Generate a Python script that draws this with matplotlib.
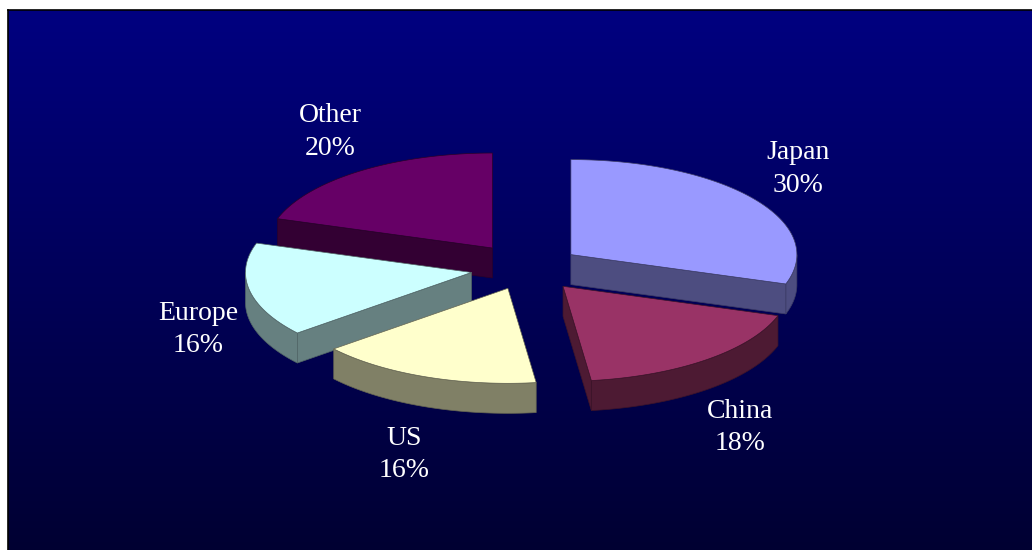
import numpy as np
import matplotlib
matplotlib.use("Agg")
import matplotlib.pyplot as plt
from matplotlib.patches import Polygon

categories = ["Japan", "China", "US", "Europe", "Other"]
shares = [30, 18, 16, 16, 20]
top_colors = ["#9999FF", "#993366", "#FFFFCC", "#CCFFFF", "#660066"]
explode = [0.24, 0.25, 0.23, 0.25, 0.26]

W, H = 1032, 550
fig = plt.figure(figsize=(W / 100, H / 100), dpi=100)
fig.patch.set_facecolor("white")
ax = fig.add_axes([0, 0, 1, 1])
ax.set_xlim(0, W)
ax.set_ylim(H, 0)
ax.axis("off")

# gradient background
grad = np.linspace(0, 1, 256)[:, None, None]
c_top = np.array([0, 0, 128]) / 255
c_bot = np.array([0, 0, 50]) / 255
img = c_top + (c_bot - c_top) * grad
ax.imshow(img, extent=(8, W, H, 10), aspect="auto", zorder=0,
          interpolation="bilinear")
ax.plot([8, 8], [10, H], color="black", lw=1.2, zorder=1)
ax.plot([8, W], [10, 10], color="black", lw=1.2, zorder=1)

# 3D pie geometry
cx, cy = 527, 268
rx, ry = 226, 95
T = 30

fr = np.array(shares, dtype=float) / sum(shares)
ends = 90 - np.cumsum(fr) * 360
starts = ends + fr * 360


def darker(hexc, f=0.5):
    r, g, b = matplotlib.colors.to_rgb(hexc)
    return (r * f, g * f, b * f)


slices = []
for i in range(len(shares)):
    a, b = ends[i], starts[i]
    mid = np.radians((a + b) / 2)
    ox = cx + explode[i] * rx * np.cos(mid)
    oy = cy - explode[i] * ry * np.sin(mid)
    slices.append((oy, i, a, b, ox, mid))

slices.sort()
z = 2
for oy, i, a, b, ox, mid in slices:
    top = top_colors[i]
    side = darker(top, 0.5)
    edge = darker(top, 0.4)

    def pt(deg, dy=0):
        t = np.radians(deg)
        return (ox + rx * np.cos(t), oy - ry * np.sin(t) + dy)

    # curved front wall
    lo, hi = max(a, -180), min(b, 0)
    if hi > lo:
        th = np.linspace(lo, hi, 120)
        upper = [pt(t) for t in th]
        lower = [pt(t, T) for t in th[::-1]]
        ax.add_patch(Polygon(upper + lower, closed=True, facecolor=side,
                             edgecolor=edge, lw=0.5, zorder=z))
    # radial walls
    if np.cos(np.radians(a)) > 1e-6:
        p = pt(a)
        ax.add_patch(Polygon([(ox, oy), p, (p[0], p[1] + T), (ox, oy + T)],
                             closed=True, facecolor=side, edgecolor=edge,
                             lw=0.5, zorder=z))
    if np.cos(np.radians(b)) < -1e-6:
        p = pt(b)
        ax.add_patch(Polygon([(ox, oy), p, (p[0], p[1] + T), (ox, oy + T)],
                             closed=True, facecolor=side, edgecolor=edge,
                             lw=0.5, zorder=z))
    # top face
    th = np.linspace(a, b, 200)
    poly = [(ox, oy)] + [pt(t) for t in th]
    ax.add_patch(Polygon(poly, closed=True, facecolor=top, edgecolor=edge,
                         lw=0.5, zorder=z + 0.5))
    z += 1

    # label
    lx = cx + 1.48 * rx * np.cos(mid)
    ly = cy - 1.77 * ry * np.sin(mid) + (T if np.sin(mid) < 0 else 0)
    ax.text(lx, ly, f"{categories[i]}\n{shares[i]}%", ha="center",
            va="center", color="white", fontsize=20,
            family=["Liberation Serif", "DejaVu Serif"], linespacing=1.4,
            zorder=20)

fig.savefig("out.png", dpi=100)
